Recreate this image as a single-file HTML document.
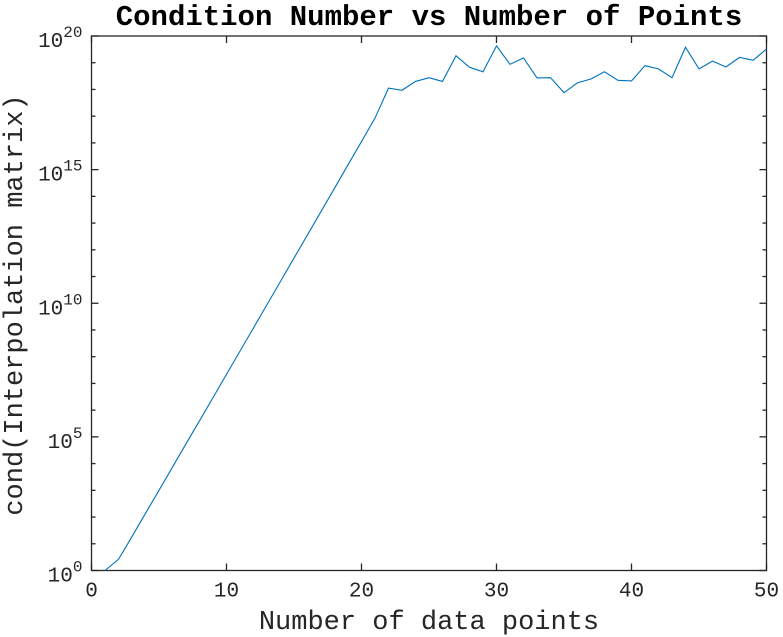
<!DOCTYPE html>
<html><head><meta charset="utf-8"><style>
html,body{margin:0;padding:0;background:#fff;}
svg{display:block;}
text{font-family:"Liberation Mono","DejaVu Sans Mono",monospace;fill:#262626;}
</style></head><body>
<svg id="chart" width="783" height="637" viewBox="0 0 783 637" xmlns="http://www.w3.org/2000/svg">
<text x="429" y="25" text-anchor="middle" font-size="29" font-weight="bold" style="fill:#000">Condition Number vs Number of Points</text>
<g id="axes"></g>
<text x="429" y="629" text-anchor="middle" font-size="27">Number of data points</text>
<text transform="translate(22,305) rotate(-90)" text-anchor="middle" font-size="27">cond(Interpolation matrix)</text>
</svg>
<script>
const xTicks = [0, 10, 20, 30, 40, 50];
const yMajorExps = [0, 5, 10, 15, 20];
const nPoints = [1,2,3,4,5,6,7,8,9,10,11,12,13,14,15,16,17,18,19,20,21,22,23,24,25,26,27,28,29,30,31,32,33,34,35,36,37,38,39,40,41,42,43,44,45,46,47,48,49,50];
const log10Cond = [0,0.42,1.27,2.14,3.0,3.87,4.74,5.6,6.47,7.34,8.21,9.08,9.95,10.82,11.69,12.56,13.43,14.3,15.18,16.05,16.93,18.05,17.97,18.30,18.44,18.30,19.26,18.83,18.66,19.63,18.94,19.18,18.43,18.44,17.88,18.25,18.39,18.66,18.34,18.32,18.89,18.77,18.44,19.58,18.77,19.06,18.84,19.20,19.09,19.51];

const L=91.5,R=766.5,T=36,B=570.5;
const xs=v=>L+(v-0)/(50-0)*(R-L);
const ys=e=>B-(e-0)/(20-0)*(B-T);
const NS="http://www.w3.org/2000/svg";
const g=document.getElementById('axes');
function mk(tag,attrs){const e=document.createElementNS(NS,tag);for(const k in attrs)e.setAttribute(k,attrs[k]);g.appendChild(e);return e;}

const box=mk('rect',{x:L,y:T,width:R-L,height:B-T,fill:'none',stroke:'#262626','stroke-width':1.3});



xTicks.forEach(v=>{
  const x=xs(v);
  const t1=mk('line',{x1:x,y1:B,x2:x,y2:B-7,stroke:'#262626','stroke-width':1.3});
  
  
  const t2=mk('line',{x1:x,y1:T,x2:x,y2:T+7,stroke:'#262626','stroke-width':1.3});
  
  
  const lb=mk('text',{x:x,y:B+26,'text-anchor':'middle','font-size':21});
  lb.textContent=v;
  
  
});
for(let e=0;e<=20;e++){
  const y=ys(e);const major=yMajorExps.includes(e);const len=major?7:4;
  const t1=mk('line',{x1:L,y1:y,x2:L+len,y2:y,stroke:'#262626','stroke-width':1.3});
  
  
  const t2=mk('line',{x1:R,y1:y,x2:R-len,y2:y,stroke:'#262626','stroke-width':1.3});
  
  
}
yMajorExps.forEach(e=>{
  const y=ys(e);
  const lb=mk('text',{x:L-9,y:y+11,'text-anchor':'end','font-size':21});
  
  
  const a=document.createElementNS(NS,'tspan');a.textContent='10';lb.appendChild(a);
  const b=document.createElementNS(NS,'tspan');b.setAttribute('dy','-10');b.setAttribute('font-size','16');b.textContent=e;lb.appendChild(b);
});
const d=nPoints.map((n,i)=>(i?'L':'M')+xs(n).toFixed(2)+','+ys(log10Cond[i]).toFixed(2)).join(' ');
const line=mk('path',{d:d,fill:'none',stroke:'#0072BD','stroke-width':1.1});


</script>
</body></html>
